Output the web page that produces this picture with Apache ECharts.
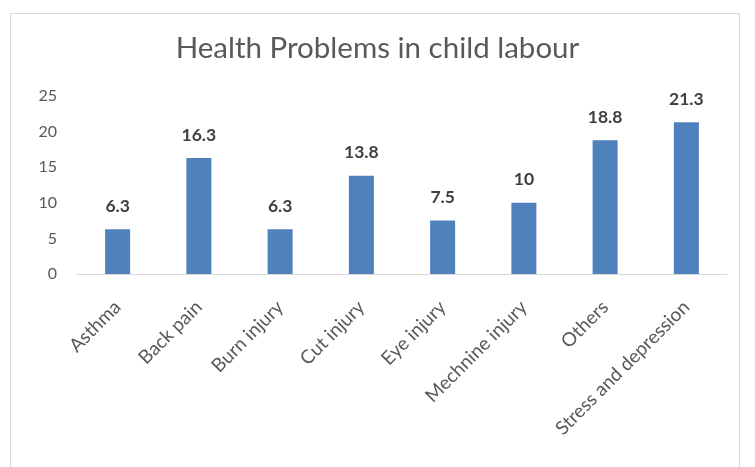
<!DOCTYPE html>
<html><head><meta charset="utf-8">
<script src="https://cdn.jsdelivr.net/npm/echarts@6/dist/echarts.min.js"></script>
<style>html,body{margin:0;padding:0;background:#fff}#c{width:755px;height:467px}</style>
</head><body><div id="c"></div>
<script>
const categories = ["Asthma","Back pain","Burn injury","Cut injury","Eye injury","Mechnine injury","Others","Stress and depression"];
const values = [6.3, 16.3, 6.3, 13.8, 7.5, 10, 18.8, 21.3];
const yTicks = [0, 5, 10, 15, 20, 25];
const titleText = "Health Problems in child labour";

const chart = echarts.init(document.getElementById('c'));
chart.setOption({
  animation: false,
  backgroundColor: '#fff',
  graphic: [{type:'rect', shape:{x:10.5,y:13.5,width:729,height:470}, style:{fill:'none',stroke:'#d9d9d9',lineWidth:1}, silent:true}],
  title: {text: titleText, left: 'center', top: 28, textStyle:{fontFamily:'Lato', fontWeight:'normal', fontSize:29.5, color:'#595959'}},
  grid: {left: 77, right: 28, top: 96, bottom: 193},
  xAxis: {type:'category', data: categories,
    axisLine:{lineStyle:{color:'#d9d9d9'}}, axisTick:{show:false},
    axisLabel:{rotate:45, interval:0, fontFamily:'Lato', fontSize:19, color:'#595959', margin:30}},
  yAxis: {type:'value', min: yTicks[0], max: yTicks[yTicks.length-1], interval: 5,
    splitLine:{show:false}, axisLine:{show:false}, axisTick:{show:false},
    axisLabel:{fontFamily:'Lato', fontSize:16, color:'#595959', margin:20}},
  series: [{type:'bar', data: values, barWidth: 25, itemStyle:{color:'#4f81bd'},
    label:{show:true, position:'top', distance:14, fontFamily:'Lato', fontWeight:'bold', fontSize:17.5, color:'#404040'}}]
});
</script></body></html>
